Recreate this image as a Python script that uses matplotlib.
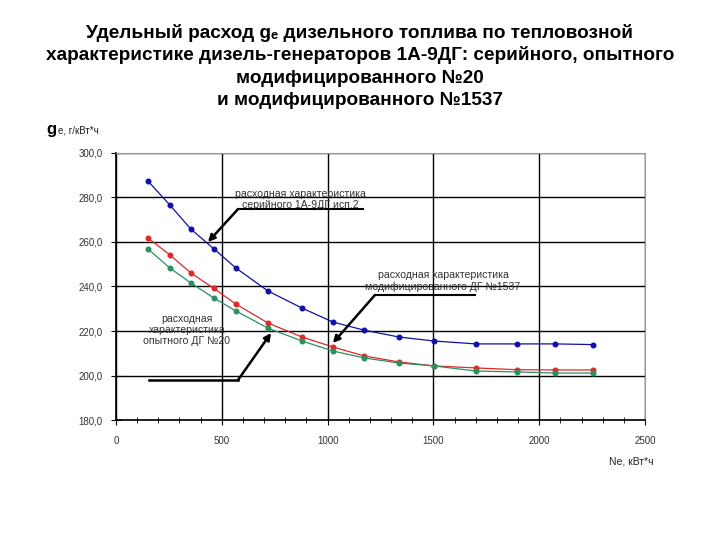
import matplotlib.pyplot as plt
from matplotlib.ticker import MultipleLocator, FuncFormatter

plt.rcParams['font.family'] = ['Liberation Sans', 'DejaVu Sans']

# мощность Ne, кВт
ne = [151, 255, 354, 463, 567, 718, 879, 1026, 1172, 1337, 1503, 1701, 1895, 2075, 2254]

# удельный расход ge, г/кВт*ч
ge_serial = [287.4, 276.6, 265.8, 256.9, 248.3, 238.0, 230.3, 224.0, 220.4, 217.3,
             215.5, 214.2, 214.2, 214.2, 213.9]
ge_1537 = [261.8, 254.2, 246.1, 239.1, 232.1, 223.6, 217.3, 212.8, 208.8, 206.1,
           204.3, 203.4, 202.6, 202.5, 202.5]
ge_20 = [256.9, 248.3, 241.6, 234.8, 229.0, 221.3, 215.5, 211.0, 207.9, 205.6,
         204.3, 202.0, 201.6, 201.1, 201.1]

title_lines = ["Удельный расход gₑ дизельного топлива по тепловозной",
               "характеристике дизель-генераторов 1А-9ДГ: серийного, опытного",
               "модифицированного №20",
               "и модифицированного №1537"]

fig = plt.figure(figsize=(7.2, 5.4), dpi=100)
ax = fig.add_axes([0.161, 0.2222, 0.735, 0.4945])

ax.plot(ne, ge_serial, color='#1010a8', lw=0.9, marker='o', ms=3.3, zorder=3)
ax.plot(ne, ge_1537, color='#e02828', lw=0.9, marker='o', ms=3.3, zorder=3)
ax.plot(ne, ge_20, color='#2a9060', lw=0.9, marker='o', ms=3.3, zorder=3)

ax.set_xlim(0, 2500)
ax.set_ylim(180, 300)
ax.xaxis.set_major_locator(MultipleLocator(500))
ax.xaxis.set_minor_locator(MultipleLocator(100))
ax.yaxis.set_major_locator(MultipleLocator(20))
ax.yaxis.set_major_formatter(FuncFormatter(lambda v, p: f"{v:.1f}".replace('.', ',')))
ax.tick_params(axis='both', which='both', direction='inout', colors='black',
               labelcolor='#333333', labelsize=7)
ax.tick_params(axis='x', which='major', length=7, pad=8)
ax.tick_params(axis='x', which='minor', length=5)
ax.tick_params(axis='y', which='major', length=7, pad=6)
ax.grid(True, which='major', color='black', lw=1.0)
for s in ['top', 'right']:
    ax.spines[s].set_color('#999999')
for s in ['left', 'bottom']:
    ax.spines[s].set_linewidth(1.2)

for i, line in enumerate(title_lines):
    fig.text(0.5, 1 - (33 + 22.5 * i) / 540, line, ha='center', va='center',
             fontsize=13.7, fontweight='bold')

# подпись оси Y
fig.text(0.065, 0.752, "g", fontsize=12, fontweight='bold', ha='left', va='baseline')
fig.text(0.081, 0.752, "e, г/кВт*ч", fontsize=7, ha='left', va='baseline', color='#222222')
# подпись оси X
fig.text(0.908, 0.145, "Ne, кВт*ч", fontsize=7.5, ha='right', va='center', color='#222222')

txt = dict(fontsize=7.6, color='#333333', ha='center', va='center', linespacing=1.15)
arrow = dict(arrowstyle='-|>', color='black', lw=1.8, mutation_scale=10,
             shrinkA=0, shrinkB=0)

# серийный
ax.text(870, 279, "расходная характеристика\nсерийного 1А-9ДГ исп.2", **txt)
ax.plot([577, 1166], [274.8, 274.8], color='black', lw=1.5)
ax.annotate("", xy=(435, 260), xytext=(577, 274.8), arrowprops=arrow)

# №1537
ax.text(1545, 242.5, "расходная характеристика\nмодифицированного ДГ №1537", **txt)
ax.plot([1224, 1697], [236.2, 236.2], color='black', lw=1.5)
ax.annotate("", xy=(1025, 214.6), xytext=(1224, 236.2), arrowprops=arrow)

# №20
ax.text(335, 220.5, "расходная\nхарактеристика\nопытного ДГ №20", **txt)
ax.plot([156, 577], [198.0, 198.0], color='black', lw=1.8)
ax.annotate("", xy=(733, 219.1), xytext=(577, 198.0), arrowprops=arrow)

fig.savefig("out.png", dpi=100)
